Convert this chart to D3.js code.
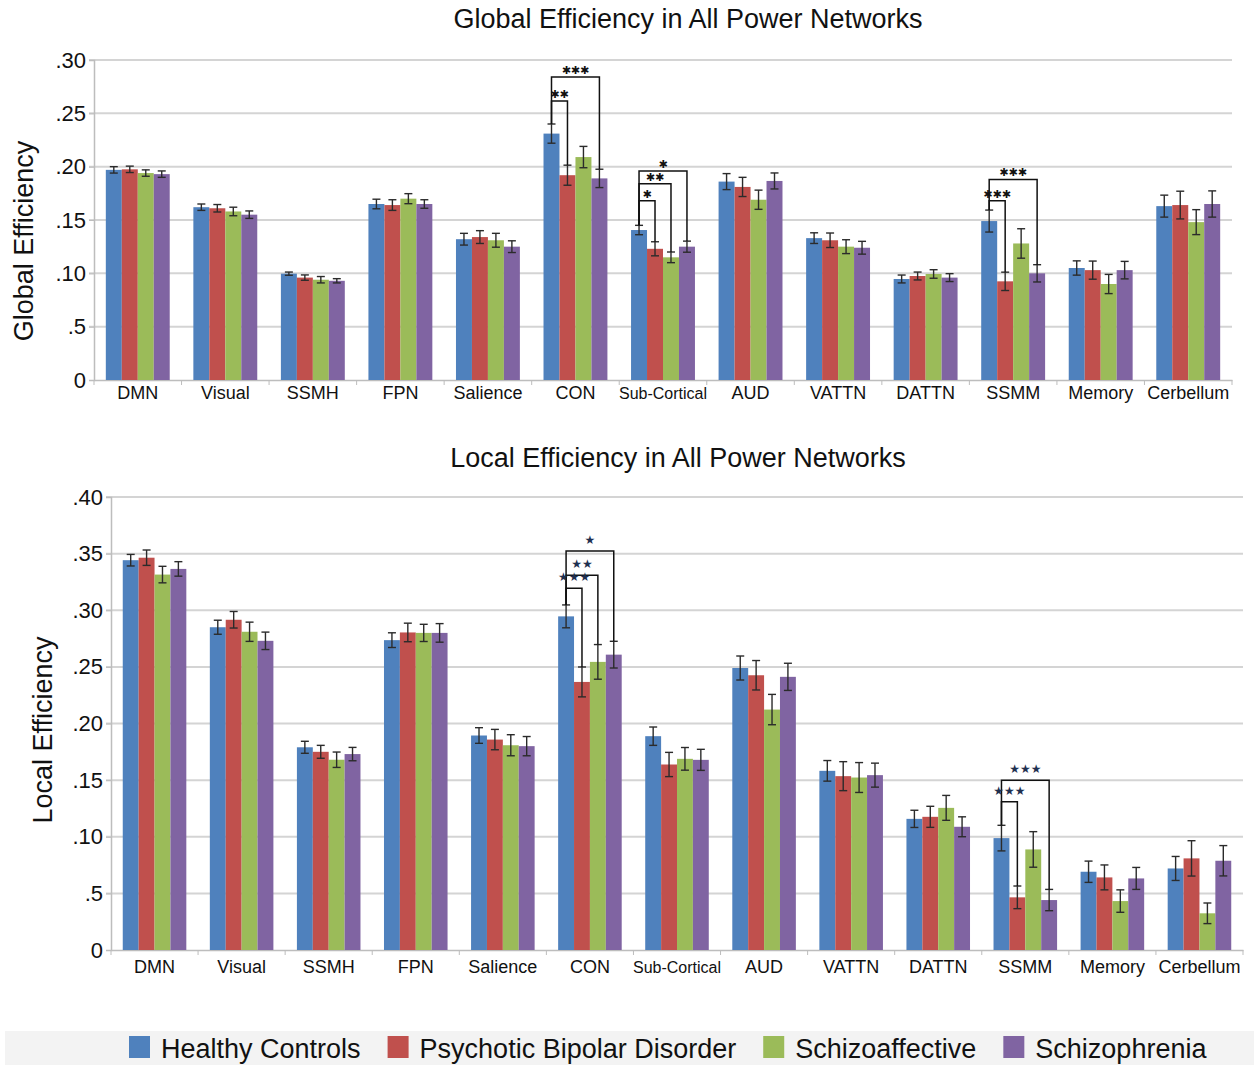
<!DOCTYPE html>
<html>
<head>
<meta charset="utf-8">
<script src="https://cdn.jsdelivr.net/npm/d3@7"></script>
<style>
  body { margin: 0; background: #fff; }
  text { font-family: "Liberation Sans", Arial, sans-serif; }
</style>
</head>
<body>
<div id="chart"></div>
<script>
// networks on the x axis and the four groups
var categories = ["DMN", "Visual", "SSMH", "FPN", "Salience", "CON", "Sub-Cortical", "AUD", "VATTN", "DATTN", "SSMM", "Memory", "Cerbellum"];
var groups = ["Healthy Controls", "Psychotic Bipolar Disorder", "Schizoaffective", "Schizophrenia"];
var colors = ["#4f81bd", "#c0504d", "#9bbb59", "#8064a2"];

// global efficiency (means and error bar half widths)
var globalHC  = [0.197, 0.162, 0.0997, 0.165, 0.132, 0.231, 0.1406, 0.186, 0.133, 0.0947, 0.149, 0.105, 0.163];
var globalPBD = [0.1975, 0.161, 0.096, 0.164, 0.134, 0.192, 0.123, 0.181, 0.131, 0.0975, 0.0925, 0.103, 0.164];
var globalSZA = [0.194, 0.158, 0.094, 0.170, 0.131, 0.209, 0.115, 0.169, 0.125, 0.0994, 0.128, 0.090, 0.148];
var globalSZ  = [0.193, 0.155, 0.093, 0.165, 0.125, 0.189, 0.125, 0.1866, 0.124, 0.096, 0.100, 0.103, 0.165];
var globalErrHC  = [0.003, 0.003, 0.0015, 0.0045, 0.0055, 0.009, 0.0044, 0.0075, 0.005, 0.0037, 0.0103, 0.0067, 0.0103];
var globalErrPBD = [0.003, 0.0035, 0.0025, 0.005, 0.006, 0.0094, 0.0066, 0.009, 0.0068, 0.0037, 0.0086, 0.0085, 0.013];
var globalErrSZA = [0.003, 0.004, 0.003, 0.0047, 0.0065, 0.010, 0.005, 0.009, 0.0065, 0.004, 0.0138, 0.009, 0.0117];
var globalErrSZ  = [0.003, 0.0035, 0.002, 0.004, 0.0055, 0.0086, 0.0052, 0.0075, 0.006, 0.0037, 0.0081, 0.0082, 0.0123];

// local efficiency
var localHC  = [0.3442, 0.285, 0.179, 0.2736, 0.1894, 0.2946, 0.1888, 0.249, 0.1582, 0.1158, 0.0988, 0.0691, 0.072];
var localPBD = [0.3464, 0.2916, 0.175, 0.2804, 0.1858, 0.2367, 0.1638, 0.2426, 0.1535, 0.1176, 0.0465, 0.0641, 0.0809];
var localSZA = [0.3315, 0.281, 0.168, 0.280, 0.1808, 0.2544, 0.1688, 0.2123, 0.1523, 0.1255, 0.0888, 0.0432, 0.0324];
var localSZ  = [0.3365, 0.273, 0.173, 0.280, 0.180, 0.2608, 0.1679, 0.2412, 0.1544, 0.1088, 0.0441, 0.0632, 0.0788];
var localErrHC  = [0.0051, 0.0062, 0.0053, 0.0065, 0.0069, 0.0101, 0.0081, 0.0106, 0.0091, 0.0076, 0.0113, 0.0094, 0.0106];
var localErrPBD = [0.0068, 0.0073, 0.0057, 0.0082, 0.009, 0.0132, 0.0107, 0.013, 0.0128, 0.0093, 0.010, 0.011, 0.0156];
var localErrSZA = [0.0073, 0.0085, 0.0068, 0.0076, 0.0093, 0.0153, 0.010, 0.0134, 0.0132, 0.011, 0.0157, 0.0099, 0.0091];
var localErrSZ  = [0.0064, 0.0077, 0.0059, 0.0082, 0.0085, 0.0118, 0.0093, 0.012, 0.0106, 0.0088, 0.0094, 0.0097, 0.0134];

// y ticks (the original labels .05 as ".5")
var globalTicks = [0, 0.05, 0.10, 0.15, 0.20, 0.25, 0.30];
var globalTickLabels = ["0", ".5", ".10", ".15", ".20", ".25", ".30"];
var localTicks = [0, 0.05, 0.10, 0.15, 0.20, 0.25, 0.30, 0.35, 0.40];
var localTickLabels = ["0", ".5", ".10", ".15", ".20", ".25", ".30", ".35", ".40"];

// significance brackets: group a vs group b, bracket level in data units
var globalSig = [
  { cat: "CON", a: 0, b: 3, at: 0.284, label: "✱✱✱" },
  { cat: "CON", a: 0, b: 1, at: 0.2616, label: "✱✱" },
  { cat: "Sub-Cortical", a: 0, b: 3, at: 0.196, label: "✱" },
  { cat: "Sub-Cortical", a: 0, b: 2, at: 0.184, label: "✱✱" },
  { cat: "Sub-Cortical", a: 0, b: 1, at: 0.168, label: "✱" },
  { cat: "SSMM", a: 0, b: 3, at: 0.188, label: "✱✱✱" },
  { cat: "SSMM", a: 0, b: 1, at: 0.168, label: "✱✱✱" }
];
var localSig = [
  { cat: "CON", a: 0, b: 3, at: 0.3523, label: "★" },
  { cat: "CON", a: 0, b: 2, at: 0.331, label: "★★" },
  { cat: "CON", a: 0, b: 1, at: 0.3194, label: "★★★" },
  { cat: "SSMM", a: 0, b: 3, at: 0.150, label: "★★★" },
  { cat: "SSMM", a: 0, b: 1, at: 0.131, label: "★★★" }
];

var svg = d3.select("#chart")
  .append("svg")
  .attr("width", 1254)
  .attr("height", 1066);

function drawPanel(p) {
  var g = svg.append("g");

  var x0 = d3.scaleBand()
    .domain(categories)
    .range([p.left, p.right])
    .paddingInner(0.27)
    .paddingOuter(0.135);
  var x1 = d3.scaleBand()
    .domain(d3.range(groups.length))
    .range([0, x0.bandwidth()]);
  var y = d3.scaleLinear()
    .domain([0, p.max])
    .range([p.bottom, p.top]);

  // gridlines
  g.selectAll(".grid")
    .data(p.ticks.slice(1))
    .enter().append("line")
    .attr("x1", p.left - 5)
    .attr("x2", p.right)
    .attr("y1", function (d) { return y(d); })
    .attr("y2", function (d) { return y(d); })
    .attr("stroke", "#d4d4d4")
    .attr("stroke-width", 2);

  // y axis
  var yAxis = d3.axisLeft(y)
    .tickValues(p.ticks)
    .tickFormat(function (d, i) { return p.tickLabels[i]; })
    .tickSize(5)
    .tickPadding(3);
  var ya = g.append("g")
    .attr("transform", "translate(" + p.left + ",0)")
    .call(yAxis);
  ya.select(".domain").attr("stroke", "#bdbdbd").attr("stroke-width", 1.5);
  ya.selectAll(".tick line").attr("stroke", "#bdbdbd");
  ya.selectAll(".tick text")
    .attr("fill", "#111")
    .style("font-size", "22px");

  // x axis
  var xa = g.append("g")
    .attr("transform", "translate(0," + p.bottom + ")")
    .call(d3.axisBottom(x0).tickSize(0));
  xa.select(".domain").attr("stroke", "#bdbdbd").attr("stroke-width", 1.5);
  xa.selectAll(".tick text")
    .attr("y", p.labelBase)
    .attr("dy", null)
    .attr("fill", "#111")
    .style("font-size", function (d) { return d === "Sub-Cortical" ? "16px" : "18px"; });
  // small separators between networks
  xa.selectAll(".sep")
    .data(d3.range(categories.length + 1))
    .enter().append("line")
    .attr("x1", function (i) { return p.left + i * x0.step(); })
    .attr("x2", function (i) { return p.left + i * x0.step(); })
    .attr("y1", 0)
    .attr("y2", 5)
    .attr("stroke", "#bdbdbd");

  // bars
  var rows = categories.map(function (c, i) {
    return groups.map(function (gr, k) {
      return { cat: c, k: k, v: p.values[k][i], e: p.errors[k][i] };
    });
  });
  var cg = g.append("g").selectAll("g")
    .data(rows)
    .enter().append("g")
    .attr("transform", function (d) { return "translate(" + x0(d[0].cat) + ",0)"; });
  cg.selectAll("rect")
    .data(function (d) { return d; })
    .enter().append("rect")
    .attr("x", function (d) { return x1(d.k); })
    .attr("y", function (d) { return y(d.v); })
    .attr("width", x1.bandwidth())
    .attr("height", function (d) { return y(0) - y(d.v); })
    .attr("fill", function (d) { return colors[d.k]; });

  // error bars
  var eb = cg.selectAll(".err")
    .data(function (d) { return d; })
    .enter().append("g")
    .attr("stroke", "#2b2b2b")
    .attr("stroke-width", 1.4);
  eb.append("line")
    .attr("x1", function (d) { return x1(d.k) + x1.bandwidth() / 2; })
    .attr("x2", function (d) { return x1(d.k) + x1.bandwidth() / 2; })
    .attr("y1", function (d) { return y(d.v - d.e); })
    .attr("y2", function (d) { return y(d.v + d.e); });
  [-1, 1].forEach(function (s) {
    eb.append("line")
      .attr("x1", function (d) { return x1(d.k) + x1.bandwidth() / 2 - 4; })
      .attr("x2", function (d) { return x1(d.k) + x1.bandwidth() / 2 + 4; })
      .attr("y1", function (d) { return y(d.v + s * d.e); })
      .attr("y2", function (d) { return y(d.v + s * d.e); });
  });

  // significance brackets
  var ci = function (c) { return categories.indexOf(c); };
  var cx = function (s, k) { return x0(s.cat) + x1(k) + x1.bandwidth() / 2; };
  g.selectAll(".sig")
    .data(p.sig)
    .enter().append("path")
    .attr("fill", "none")
    .attr("stroke", "#111")
    .attr("stroke-width", 1.5)
    .attr("d", function (s) {
      var i = ci(s.cat);
      var ta = p.values[s.a][i] + p.errors[s.a][i];
      var tb = p.values[s.b][i] + p.errors[s.b][i];
      return "M" + cx(s, s.a) + "," + y(ta) + "V" + y(s.at) + "H" + cx(s, s.b) + "V" + y(tb);
    });
  g.selectAll(".siglabel")
    .data(p.sig)
    .enter().append("text")
    .attr("x", function (s) { return (cx(s, s.a) + cx(s, s.b)) / 2; })
    .attr("y", function (s) { return y(s.at) + p.starDy; })
    .attr("text-anchor", "middle")
    .attr("fill", p.starColor)
    .style("font-size", p.starSize)
    .style("font-family", "DejaVu Sans")
    .text(function (s) { return s.label; });

  // titles
  g.append("text")
    .attr("x", p.titleX)
    .attr("y", p.titleY)
    .attr("text-anchor", "middle")
    .attr("fill", "#111")
    .style("font-size", "27px")
    .text(p.title);
  g.append("text")
    .attr("transform", "translate(" + p.yTitleX + "," + p.yTitleY + ") rotate(-90)")
    .attr("text-anchor", "middle")
    .attr("fill", "#111")
    .style("font-size", "27px")
    .text(p.yTitle);
}

drawPanel({
  left: 94, right: 1232, top: 60, bottom: 380, max: 0.30,
  ticks: globalTicks, tickLabels: globalTickLabels,
  values: [globalHC, globalPBD, globalSZA, globalSZ],
  errors: [globalErrHC, globalErrPBD, globalErrSZA, globalErrSZ],
  sig: globalSig, starDy: -3, starSize: "11px", starColor: "#111",
  labelBase: 19,
  title: "Global Efficiency in All Power Networks", titleX: 688, titleY: 28,
  yTitle: "Global Efficiency", yTitleX: 33, yTitleY: 241
});

drawPanel({
  left: 111, right: 1243, top: 497, bottom: 950, max: 0.40,
  ticks: localTicks, tickLabels: localTickLabels,
  values: [localHC, localPBD, localSZA, localSZ],
  errors: [localErrHC, localErrPBD, localErrSZA, localErrSZ],
  sig: localSig, starDy: -7, starSize: "12px", starColor: "#1f3050",
  labelBase: 23,
  title: "Local Efficiency in All Power Networks", titleX: 678, titleY: 467,
  yTitle: "Local Efficiency", yTitleX: 52, yTitleY: 730
});

// legend
var legend = svg.append("g");
legend.append("rect")
  .attr("x", 5).attr("y", 1031)
  .attr("width", 1249).attr("height", 34)
  .attr("fill", "#f3f3f3");
var lx = 129;
groups.forEach(function (name, k) {
  legend.append("rect")
    .attr("x", lx).attr("y", 1036)
    .attr("width", 21).attr("height", 22)
    .attr("fill", colors[k]);
  var t = legend.append("text")
    .attr("x", lx + 32).attr("y", 1058)
    .attr("fill", "#111")
    .style("font-size", "27px")
    .text(name);
  lx += 32 + t.node().getComputedTextLength() + 27;
});
</script>
</body>
</html>
